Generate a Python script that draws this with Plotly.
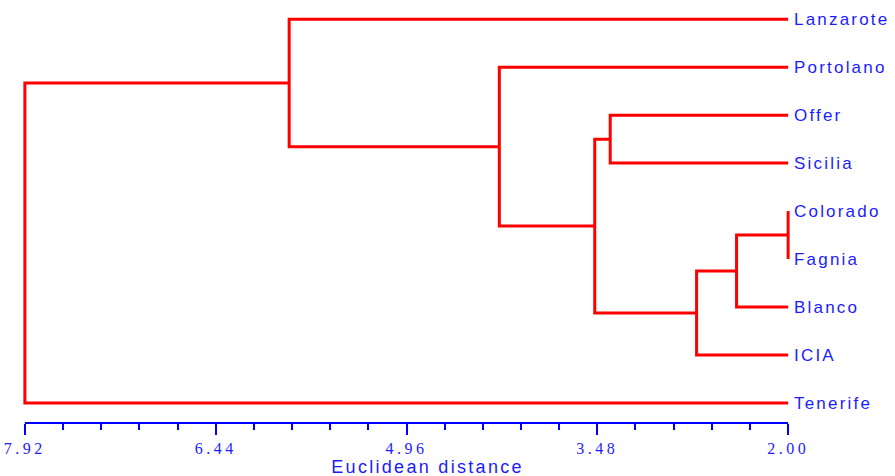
import plotly.graph_objects as go

# ---- data -------------------------------------------------------------
leaves = ["Lanzarote", "Portolano", "Offer", "Sicilia", "Colorado",
          "Fagnia", "Blanco", "ICIA", "Tenerife"]
# merges: (left node, right node, distance); nodes 0..8 are leaves,
# node 9+k is the cluster formed by merge k
merge_left = [4, 9, 10, 2, 12, 1, 0, 15]
merge_right = [5, 6, 7, 3, 11, 13, 14, 8]
merge_dist = [2.00, 2.40, 2.71, 3.38, 3.50, 4.24, 5.87, 7.92]
leaf_dist = 2.00

major_ticks = [7.92, 6.44, 4.96, 3.48, 2.00]
minor_step = 0.296

RED = "#ff0000"
BLUE = "#0000ff"
TXT = "#1c1cff"

# ---- build dendrogram geometry through the data values ----------------
n = len(leaves)
node_y = {i: float(n - 1 - i) for i in range(n)}
node_x = {i: leaf_dist for i in range(n)}
xs, ys = [], []
for k, (a, b, d) in enumerate(zip(merge_left, merge_right, merge_dist)):
    xs += [node_x[a], d, d, node_x[b], None]
    ys += [node_y[a], node_y[a], node_y[b], node_y[b], None]
    node_x[n + k] = d
    node_y[n + k] = (node_y[a] + node_y[b]) / 2

fig = go.Figure()
fig.add_trace(go.Scatter(x=xs, y=ys, mode="lines",
                         line=dict(color=RED, width=3),
                         hoverinfo="skip", showlegend=False))

# axis line exactly between the end ticks
fig.add_shape(type="line", xref="x", yref="paper",
              x0=major_ticks[0], x1=major_ticks[-1], y0=0, y1=0,
              line=dict(color=BLUE, width=2))

fig.add_annotation(text="Euclidean distance", xref="paper", yref="paper",
                   x=0.527, y=0, xanchor="center", yanchor="top",
                   yshift=-32, showarrow=False,
                   font=dict(family="Liberation Sans", size=18, color=TXT))

fig.update_layout(
    width=895, height=476,
    margin=dict(l=21, r=103, t=0, b=53),
    paper_bgcolor="white", plot_bgcolor="white",
    hovermode=False, dragmode=False,
    xaxis=dict(range=[7.95, 1.97], showgrid=False, zeroline=False,
               showline=False, automargin=False, fixedrange=True,
               tickmode="array", tickvals=major_ticks,
               ticktext=[f"{v:.2f}" for v in major_ticks],
               ticks="outside", ticklen=11, tickwidth=2, tickcolor=BLUE,
               tickfont=dict(family="Liberation Serif", size=16, color=TXT),
               minor=dict(tick0=2.0, dtick=minor_step, ticks="outside",
                          ticklen=6, tickwidth=2, tickcolor=BLUE,
                          showgrid=False)),
    yaxis=dict(range=[-0.417, 8.40], showgrid=False, zeroline=False,
               showline=False, side="right", ticks="", automargin=False,
               fixedrange=True,
               tickmode="array", tickvals=[float(n - 1 - i) for i in range(n)],
               ticktext=leaves, ticklabelstandoff=1,
               tickfont=dict(family="Liberation Sans", size=17, color=TXT)),
)

post = """
document.body.style.margin = '0';
var gd = document.getElementById('{plot_id}');
function sp(){
  gd.querySelectorAll('.ytick text').forEach(function(t){t.style.letterSpacing='2.2px';});
  gd.querySelectorAll('.xtick text').forEach(function(t){t.style.letterSpacing='3.5px';});
  gd.querySelectorAll('.annotation-text').forEach(function(t){t.style.letterSpacing='2.3px';});
}
sp();
gd.on('plotly_afterplot', sp);
"""

fig.write_html("out.html", post_script=post,
               config={"displayModeBar": False, "staticPlot": True})
